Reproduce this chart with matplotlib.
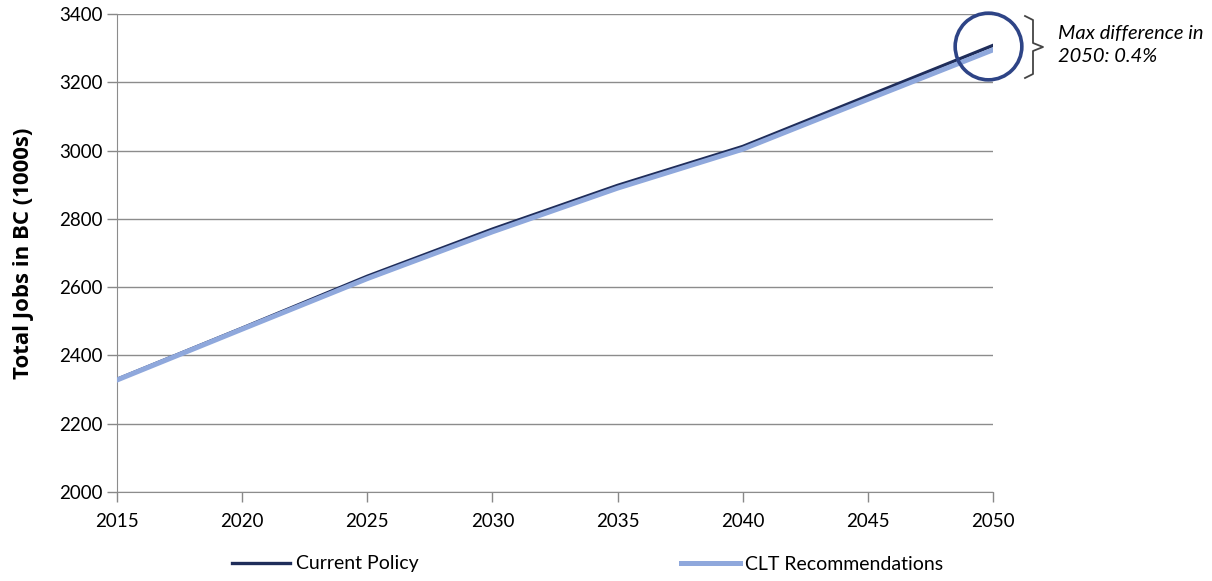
import matplotlib.pyplot as plt
from matplotlib.lines import Line2D

years = [2015, 2020, 2025, 2030, 2035, 2040, 2045, 2050]
current_policy = [2330, 2480, 2632, 2770, 2898, 3012, 3160, 3308]
clt_recs = [2328, 2477, 2625, 2762, 2890, 3004, 3150, 3295]
y_ticks = [2000, 2200, 2400, 2600, 2800, 3000, 3200, 3400]

plt.rcParams['font.family'] = ['Lato', 'DejaVu Sans']

fig = plt.figure(figsize=(12.12, 5.81), dpi=100)
ax = fig.add_axes([117 / 1212, 89 / 581, 876 / 1212, 478 / 581])

ax.plot(years, current_policy, color='#1f2d5a', lw=2.4, label='Current Policy', zorder=3)
ax.plot(years, clt_recs, color='#8fa8dc', lw=3.6, label='CLT Recommendations', zorder=4)

ax.set_xlim(2015, 2050)
ax.set_ylim(2000, 3400)
ax.set_xticks(years)
ax.set_yticks(y_ticks)
ax.tick_params(labelsize=13.5, colors='#888888', labelcolor='black', length=7, width=1)
ax.tick_params(axis='x', pad=8)
ax.grid(axis='y', color='#8c8c8c', lw=1)
ax.set_axisbelow(True)
for s in ['top', 'right']:
    ax.spines[s].set_visible(False)
for s in ['left', 'bottom']:
    ax.spines[s].set_color('#8c8c8c')
ax.set_ylabel('Total Jobs in BC (1000s)', fontsize=16, fontweight='bold', labelpad=18,
              family=['Open Sans', 'DejaVu Sans'])

# circle around the 2050 gap
ax.plot([2049.8], [3306], marker='o', ms=48, mfc='none', mec='#2e4486', mew=2.6,
        clip_on=False, zorder=5)

# bracket + note
bx = [1025 / 1212, 1033 / 1212, 1033 / 1212, 1043 / 1212, 1033 / 1212, 1033 / 1212, 1025 / 1212]
by = [1 - 16 / 581, 1 - 20 / 581, 1 - 43 / 581, 1 - 47 / 581, 1 - 51 / 581, 1 - 74 / 581, 1 - 78 / 581]
fig.add_artist(Line2D(bx, by, color='#444444', lw=1.3))
fig.text(1058 / 1212, 1 - 45 / 581, 'Max difference in\n2050: 0.4%', fontsize=14.5, style='italic',
         va='center', ha='left', linespacing=1.45)

fig.legend(loc='center', bbox_to_anchor=(0.485, 1 - 564 / 581), ncol=2, frameon=False,
           fontsize=14, handlelength=3.0, handletextpad=0.3, columnspacing=13.5)
plt.savefig('out.png', dpi=100)
